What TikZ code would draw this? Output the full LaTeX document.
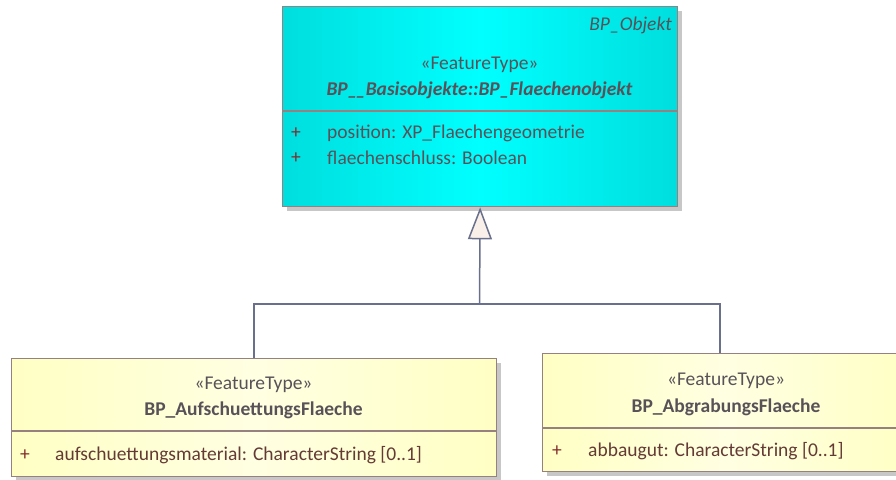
\documentclass[tikz,border=0pt]{standalone}
\usepackage{fontspec}
\setmainfont{Carlito}
\usetikzlibrary{positioning,arrows.meta,shadows}
\definecolor{boxline}{RGB}{150,128,128}
\definecolor{cyanedge}{RGB}{0,222,222}
\definecolor{cyanmid}{RGB}{0,255,255}
\definecolor{yeledge}{RGB}{255,255,196}
\definecolor{yelmid}{RGB}{255,255,226}
\definecolor{txt}{RGB}{88,82,88}
\definecolor{attrtxt}{RGB}{100,58,52}
\definecolor{plusc}{RGB}{130,45,45}
\definecolor{connc}{RGB}{104,112,140}
\definecolor{trifill}{RGB}{250,240,234}
\begin{document}
\begin{tikzpicture}[x=1pt,y=-1pt,
  cls/.style={draw=boxline,line width=1.3pt,rectangle,inner sep=0pt,anchor=north west,
    drop shadow={shadow xshift=4pt,shadow yshift=-4pt,fill=black!22,opacity=1}},
  cyanbox/.style={cls,left color=cyanedge,right color=cyanedge,middle color=cyanmid},
  yelbox/.style={cls,left color=yeledge,right color=yeledge,middle color=yelmid},
  stereo/.style={text=txt,font=\fontsize{19.5}{23}\selectfont,inner sep=0pt},
  cname/.style={text=txt,font=\fontsize{19.5}{23}\selectfont\bfseries,inner sep=0pt},
  attr/.style={text=attrtxt,font=\fontsize{19.5}{23}\selectfont,inner sep=0pt,anchor=west},
  plus/.style={text=plusc,font=\fontsize{19.5}{23}\selectfont,inner sep=0pt},
  conn/.style={draw=connc,line width=1.5pt},
  gen/.style={conn,-{Triangle[length=32pt,width=24pt,fill=trifill]}}]
\useasboundingbox (0,0) rectangle (896,479);

% superclass
\node[cyanbox,minimum width=395pt,minimum height=200pt] (top) at (282,6) {};
\draw[boxline,line width=1.3pt] (282,111) -- (677,111);
\node[stereo,anchor=east,font=\fontsize{19.5}{23}\selectfont\itshape] (topparent) at (672,25) {BP\_Objekt};
\node[stereo] (topst) at (479.5,65) {«FeatureType»};
\node[cname,font=\fontsize{19.5}{23}\selectfont\bfseries\itshape] (topname) at (479.5,90) {BP\_\kern-1.5pt\_Basisobjekte::BP\_Flaechenobjekt};
\node[plus] (tp1) at (296,133) {+};
\node[attr,text=txt] (ta1) at (327,133) {position: XP\_Flaechengeometrie};
\node[plus] (tp2) at (296,158) {+};
\node[attr,text=txt] (ta2) at (327,158) {flaechenschluss: Boolean};

% left subclass
\node[yelbox,minimum width=485pt,minimum height=118pt] (left) at (11,358) {};
\draw[boxline,line width=1.3pt] (11,431) -- (496,431);
\node[stereo] (leftst) at (253.5,385) {«FeatureType»};
\node[cname] (leftname) at (253.5,410) {BP\_AufschuettungsFlaeche};
\node[plus] (lp1) at (25,455) {+};
\node[attr] (la1) at (55,455) {aufschuettungsmaterial: CharacterString [0..1]};

% right subclass
\node[yelbox,minimum width=370pt,minimum height=118pt] (right) at (542,353) {};
\draw[boxline,line width=1.3pt] (542,428) -- (912,428);
\node[stereo] (rightst) at (726,381) {«FeatureType»};
\node[cname] (rightname) at (726,407) {BP\_AbgrabungsFlaeche};
\node[plus] (rp1) at (557,451) {+};
\node[attr] (ra1) at (588,451) {abbaugut: CharacterString [0..1]};

% generalisation
\coordinate (joint) at (479.5,304);
\coordinate (rfoot) at (720,353);
\draw[conn] (left.north) |- (joint);
\draw[conn] (rfoot) |- (joint);
\draw[gen] (joint) -- (top.south);
\end{tikzpicture}
\end{document}
